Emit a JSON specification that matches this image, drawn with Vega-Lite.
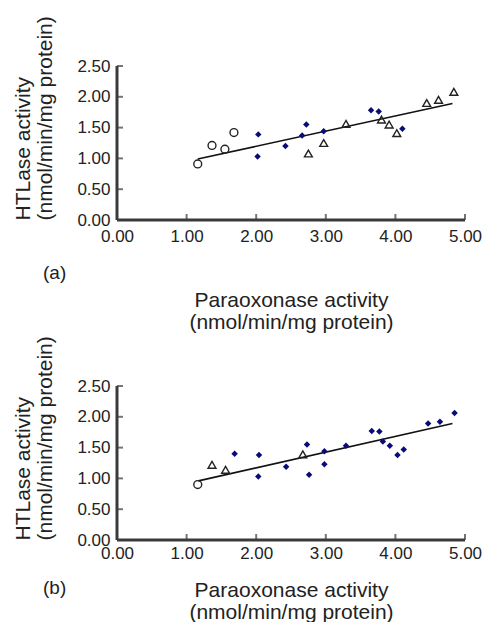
{
  "$schema": "https://vega.github.io/schema/vega-lite/v6.json",
  "padding": {"left": 12, "top": 15, "right": 0, "bottom": 0},
  "background": "white",
  "spacing": 3,
  "config": {
    "view": {"stroke": null},
    "font": "Liberation Sans",
    "axis": {
      "grid": false,
      "domain": false,
      "ticks": false,
      "labelOverlap": false,
      "labelFlush": false,
      "labelFont": "Liberation Sans",
      "labelFontSize": 17,
      "labelColor": "#222",
      "titleFont": "Liberation Sans",
      "titleFontSize": 21,
      "titleFontWeight": "normal",
      "titleColor": "#222"
    },
    "title": {"font": "Liberation Sans", "fontSize": 19, "fontWeight": "normal", "color": "#222"}
  },
  "datasets": {
    "points": [
      {"panel": "a", "group": "circle", "x": 1.16, "y": 0.91},
      {"panel": "a", "group": "circle", "x": 1.365, "y": 1.21},
      {"panel": "a", "group": "circle", "x": 1.55, "y": 1.15},
      {"panel": "a", "group": "circle", "x": 1.68, "y": 1.42},
      {"panel": "a", "group": "diamond", "x": 2.03, "y": 1.39},
      {"panel": "a", "group": "diamond", "x": 2.02, "y": 1.03},
      {"panel": "a", "group": "diamond", "x": 2.42, "y": 1.2},
      {"panel": "a", "group": "diamond", "x": 2.66, "y": 1.37},
      {"panel": "a", "group": "diamond", "x": 2.72, "y": 1.55},
      {"panel": "a", "group": "diamond", "x": 2.97, "y": 1.44},
      {"panel": "a", "group": "diamond", "x": 3.65, "y": 1.78},
      {"panel": "a", "group": "diamond", "x": 3.76, "y": 1.76},
      {"panel": "a", "group": "diamond", "x": 4.1, "y": 1.48},
      {"panel": "a", "group": "triangle", "x": 2.75, "y": 1.08},
      {"panel": "a", "group": "triangle", "x": 2.97, "y": 1.25},
      {"panel": "a", "group": "triangle", "x": 3.29, "y": 1.56},
      {"panel": "a", "group": "triangle", "x": 3.8, "y": 1.63},
      {"panel": "a", "group": "triangle", "x": 3.91, "y": 1.55},
      {"panel": "a", "group": "triangle", "x": 4.02, "y": 1.41},
      {"panel": "a", "group": "triangle", "x": 4.45, "y": 1.9},
      {"panel": "a", "group": "triangle", "x": 4.62, "y": 1.95},
      {"panel": "a", "group": "triangle", "x": 4.84, "y": 2.08},
      {"panel": "b", "group": "circle", "x": 1.16, "y": 0.9},
      {"panel": "b", "group": "triangle", "x": 1.365, "y": 1.22},
      {"panel": "b", "group": "triangle", "x": 1.56, "y": 1.14},
      {"panel": "b", "group": "triangle", "x": 2.67, "y": 1.39},
      {"panel": "b", "group": "diamond", "x": 1.69, "y": 1.4},
      {"panel": "b", "group": "diamond", "x": 2.04, "y": 1.38},
      {"panel": "b", "group": "diamond", "x": 2.03, "y": 1.03},
      {"panel": "b", "group": "diamond", "x": 2.43, "y": 1.19},
      {"panel": "b", "group": "diamond", "x": 2.73, "y": 1.55},
      {"panel": "b", "group": "diamond", "x": 2.76, "y": 1.06},
      {"panel": "b", "group": "diamond", "x": 2.98, "y": 1.44},
      {"panel": "b", "group": "diamond", "x": 2.98, "y": 1.23},
      {"panel": "b", "group": "diamond", "x": 3.29, "y": 1.53},
      {"panel": "b", "group": "diamond", "x": 3.66, "y": 1.77},
      {"panel": "b", "group": "diamond", "x": 3.77, "y": 1.76},
      {"panel": "b", "group": "diamond", "x": 3.82, "y": 1.6},
      {"panel": "b", "group": "diamond", "x": 3.92, "y": 1.53},
      {"panel": "b", "group": "diamond", "x": 4.03, "y": 1.38},
      {"panel": "b", "group": "diamond", "x": 4.12, "y": 1.47},
      {"panel": "b", "group": "diamond", "x": 4.47, "y": 1.89},
      {"panel": "b", "group": "diamond", "x": 4.64, "y": 1.92},
      {"panel": "b", "group": "diamond", "x": 4.85, "y": 2.06}
    ],
    "fit": [
      {"panel": "a", "x": 1.16, "y": 0.99},
      {"panel": "a", "x": 4.82, "y": 1.89},
      {"panel": "b", "x": 1.17, "y": 0.96},
      {"panel": "b", "x": 4.82, "y": 1.89}
    ],
    "xticks": [{"v": 1}, {"v": 2}, {"v": 3}, {"v": 4}, {"v": 5}],
    "yticks": [{"v": 0.5}, {"v": 1}, {"v": 1.5}, {"v": 2}, {"v": 2.5}],
    "one": [{"k": 1}]
  },
  "vconcat": [
    {
      "width": 348,
      "height": 154,
      "title": {"text": "(a)", "orient": "bottom", "anchor": "start", "frame": "group", "dx": -74, "dy": -72},
      "layer": [
        {
          "data": {"name": "fit"},
          "transform": [{"filter": "datum.panel === 'a'"}],
          "mark": {"type": "line", "color": "#111", "strokeWidth": 1.6},
          "encoding": {
            "x": {"field": "x", "type": "quantitative", "scale": {"domain": [0, 5], "nice": false},
              "axis": {"tickCount": 5, "format": ".2f", "labelPadding": 8, "title": ["Paraoxonase activity", "(nmol/min/mg protein)"], "titleLineHeight": 22, "titlePadding": 45}},
            "y": {"field": "y", "type": "quantitative", "scale": {"domain": [0, 2.5], "nice": false},
              "axis": {"tickCount": 6, "format": ".2f", "labelPadding": 7, "title": ["HTLase activity", "(nmol/min/mg protein)"], "titleLineHeight": 22, "titleAnchor": "start", "titlePadding": 21}}
          }
        },
        {
          "data": {"name": "one"},
          "mark": {"type": "rule", "color": "#3a3a3a", "strokeWidth": 3},
          "encoding": {"x": {"datum": 0, "type": "quantitative"}, "y": {"datum": 0, "type": "quantitative"}, "y2": {"datum": 2.5}}
        },
        {
          "data": {"name": "one"},
          "mark": {"type": "rule", "color": "#3a3a3a", "strokeWidth": 3},
          "encoding": {"x": {"datum": 0, "type": "quantitative"}, "x2": {"datum": 5}, "y": {"datum": 0, "type": "quantitative"}}
        },
        {
          "data": {"name": "xticks"},
          "mark": {"type": "tick", "orient": "vertical", "color": "#3a3a3a", "thickness": 2, "size": 6, "yOffset": -3},
          "encoding": {"x": {"field": "v", "type": "quantitative"}, "y": {"datum": 0, "type": "quantitative"}}
        },
        {
          "data": {"name": "yticks"},
          "mark": {"type": "tick", "orient": "horizontal", "color": "#3a3a3a", "thickness": 2, "size": 6, "xOffset": 3},
          "encoding": {"y": {"field": "v", "type": "quantitative"}, "x": {"datum": 0, "type": "quantitative"}}
        },
        {
          "data": {"name": "points"},
          "transform": [{"filter": "datum.panel === 'a' && datum.group !== 'diamond'"}],
          "mark": {"type": "point", "filled": false, "stroke": "#222", "strokeWidth": 1.4, "size": 62, "opacity": 1},
          "encoding": {
            "x": {"field": "x", "type": "quantitative"},
            "y": {"field": "y", "type": "quantitative"},
            "shape": {"field": "group", "type": "nominal", "scale": {"domain": ["circle", "triangle"], "range": ["circle", "triangle-up"]}, "legend": null}
          }
        },
        {
          "data": {"name": "points"},
          "transform": [{"filter": "datum.panel === 'a' && datum.group === 'diamond'"}],
          "mark": {"type": "point", "shape": "diamond", "filled": true, "color": "#0b0b78", "opacity": 1, "size": 42},
          "encoding": {
            "x": {"field": "x", "type": "quantitative"},
            "y": {"field": "y", "type": "quantitative"}
          }
        }
      ]
    },
    {
      "width": 348,
      "height": 154,
      "title": {"text": "(b)", "orient": "bottom", "anchor": "start", "frame": "group", "dx": -74, "dy": -47},
      "layer": [
        {
          "data": {"name": "fit"},
          "transform": [{"filter": "datum.panel === 'b'"}],
          "mark": {"type": "line", "color": "#111", "strokeWidth": 1.6},
          "encoding": {
            "x": {"field": "x", "type": "quantitative", "scale": {"domain": [0, 5], "nice": false},
              "axis": {"tickCount": 5, "format": ".2f", "labelPadding": 5, "title": ["Paraoxonase activity", "(nmol/min/mg protein)"], "titleLineHeight": 22, "titlePadding": 18}},
            "y": {"field": "y", "type": "quantitative", "scale": {"domain": [0, 2.5], "nice": false},
              "axis": {"tickCount": 6, "format": ".2f", "labelPadding": 7, "title": ["HTLase activity", "(nmol/min/mg protein)"], "titleLineHeight": 22, "titleAnchor": "start", "titlePadding": 21}}
          }
        },
        {
          "data": {"name": "one"},
          "mark": {"type": "rule", "color": "#3a3a3a", "strokeWidth": 3},
          "encoding": {"x": {"datum": 0, "type": "quantitative"}, "y": {"datum": 0, "type": "quantitative"}, "y2": {"datum": 2.5}}
        },
        {
          "data": {"name": "one"},
          "mark": {"type": "rule", "color": "#3a3a3a", "strokeWidth": 3},
          "encoding": {"x": {"datum": 0, "type": "quantitative"}, "x2": {"datum": 5}, "y": {"datum": 0, "type": "quantitative"}}
        },
        {
          "data": {"name": "xticks"},
          "mark": {"type": "tick", "orient": "vertical", "color": "#3a3a3a", "thickness": 2, "size": 6, "yOffset": -3},
          "encoding": {"x": {"field": "v", "type": "quantitative"}, "y": {"datum": 0, "type": "quantitative"}}
        },
        {
          "data": {"name": "yticks"},
          "mark": {"type": "tick", "orient": "horizontal", "color": "#3a3a3a", "thickness": 2, "size": 6, "xOffset": 3},
          "encoding": {"y": {"field": "v", "type": "quantitative"}, "x": {"datum": 0, "type": "quantitative"}}
        },
        {
          "data": {"name": "points"},
          "transform": [{"filter": "datum.panel === 'b' && datum.group !== 'diamond'"}],
          "mark": {"type": "point", "filled": false, "stroke": "#222", "strokeWidth": 1.4, "size": 62, "opacity": 1},
          "encoding": {
            "x": {"field": "x", "type": "quantitative"},
            "y": {"field": "y", "type": "quantitative"},
            "shape": {"field": "group", "type": "nominal", "scale": {"domain": ["circle", "triangle"], "range": ["circle", "triangle-up"]}, "legend": null}
          }
        },
        {
          "data": {"name": "points"},
          "transform": [{"filter": "datum.panel === 'b' && datum.group === 'diamond'"}],
          "mark": {"type": "point", "shape": "diamond", "filled": true, "color": "#0b0b78", "opacity": 1, "size": 42},
          "encoding": {
            "x": {"field": "x", "type": "quantitative"},
            "y": {"field": "y", "type": "quantitative"}
          }
        }
      ]
    }
  ]
}
